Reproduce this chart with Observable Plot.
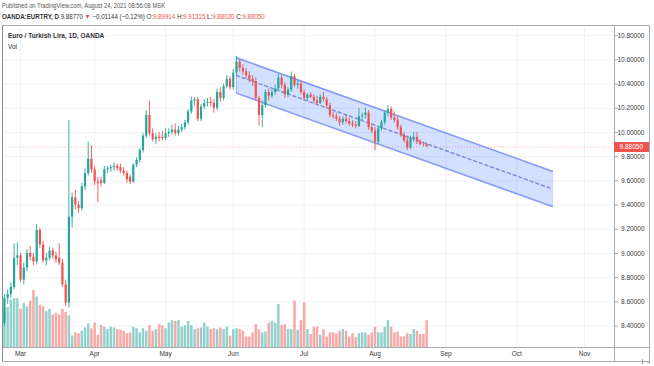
<!DOCTYPE html>
<html>
<head>
<meta charset="utf-8">
<script src="https://cdn.jsdelivr.net/npm/d3@7"></script>
<script src="https://cdn.jsdelivr.net/npm/@observablehq/plot@0.6"></script>
<style>
  html, body { margin: 0; padding: 0; background: #ffffff; }
  #page { position: relative; width: 654px; height: 366px; overflow: hidden; font-family: "Liberation Sans", Arial, sans-serif; color: #333; }
  .hdr { position: absolute; left: 2px; white-space: nowrap; font-size: 7px; line-height: 9px; transform-origin: 0 50%; }
  #h1 { top: 1px; color: #555; transform: scaleX(0.83); }
  #h2 { top: 12px; color: #333; transform: scaleX(0.88); }
  .red { color: #ef5350; }
  #frame { position: absolute; left: 2px; top: 25px; width: 648px; height: 337px; box-sizing: border-box; border: 1px solid #a9abb3; border-left-color: #8a8d96; pointer-events: none; }
  .legend { position: absolute; left: 8px; white-space: nowrap; font-size: 6.5px; color: #333; }
  #t1 { top: 32px; font-weight: bold; }
  #t2 { top: 43px; }
</style>
</head>
<body>
<div id="page">
  <div class="hdr" id="h1">Published on TradingView.com, August 24, 2021 08:56:08 MSK</div>
  <div class="hdr" id="h2"><b>OANDA:EURTRY, D</b> 9.88770 <span class="red">▼</span> −0.01144 (−0.12%) O:<span class="red">9.89914</span> H:<span class="red">9.91315</span> L:<span class="red">9.88020</span> C:<span class="red">9.88050</span></div>
  <div id="layers"></div>
  <div class="legend" id="t1">Euro / Turkish Lira, 1D, OANDA</div>
  <div class="legend" id="t2">Vol</div>
  <div id="frame"></div>
</div>
<script>
// ---------- data (daily bars, weekdays from 2021-02-22 to 2021-08-24) ----------
const firstBarDate = "2021-02-22";
const opens = [
  8.42, 8.63, 8.66, 8.72, 8.96, 8.98, 8.78, 8.88, 9.00, 8.97, 8.93, 9.19, 9.07, 8.94, 8.96, 9.02, 8.98, 8.96, 8.92, 8.74,
  8.59, 9.30, 9.46, 9.40, 9.37, 9.55, 9.66, 9.78, 9.69, 9.59, 9.60, 9.58,
  9.69, 9.70, 9.71, 9.72, 9.71, 9.68, 9.66, 9.63, 9.59, 9.73, 9.77, 9.85, 9.97, 10.14, 9.99, 9.94, 9.96, 9.96,
  9.95, 9.99, 10.00, 10.02, 9.99, 10.02, 10.04, 10.08, 10.17, 10.26, 10.27, 10.11, 10.21, 10.24, 10.25, 10.24, 10.20, 10.33, 10.28, 10.38, 10.44, 10.37,
  10.49, 10.58, 10.53, 10.50, 10.47, 10.44, 10.42, 10.28, 10.14, 10.22, 10.33, 10.30, 10.33, 10.36, 10.45, 10.39, 10.31, 10.35, 10.46, 10.39, 10.40, 10.33, 10.28, 10.31, 10.29,
  10.26, 10.24, 10.29, 10.27, 10.22, 10.14, 10.13, 10.11, 10.08, 10.11, 10.09, 10.07, 10.06, 10.05, 10.13, 10.14, 10.16, 10.04, 10.01, 9.92, 10.03, 10.08, 10.16,
  10.19, 10.12, 10.10, 10.04, 9.98, 9.93, 9.87, 9.95, 9.96, 9.92, 9.90, 9.89914
];
const highs = [
  8.66, 8.70, 8.76, 9.08, 9.09, 9.00, 8.92, 9.03, 9.06, 9.00, 9.24, 9.21, 9.10, 9.00, 9.05, 9.04, 9.01, 9.08, 8.95, 8.78,
  10.10, 9.50, 9.52, 9.43, 9.58, 9.70, 9.92, 9.89, 9.72, 9.63, 9.63, 9.72,
  9.72, 9.73, 9.75, 9.74, 9.74, 9.71, 9.68, 9.65, 9.74, 9.79, 9.87, 9.99, 10.18, 10.26, 10.03, 9.99, 10.00, 10.01,
  10.03, 10.03, 10.06, 10.07, 10.05, 10.07, 10.10, 10.19, 10.29, 10.29, 10.29, 10.23, 10.27, 10.28, 10.29, 10.27, 10.36, 10.37, 10.40, 10.47, 10.46, 10.52,
  10.63, 10.60, 10.56, 10.53, 10.50, 10.47, 10.45, 10.30, 10.26, 10.35, 10.36, 10.35, 10.39, 10.48, 10.47, 10.41, 10.37, 10.50, 10.48, 10.43, 10.42, 10.35, 10.32, 10.33, 10.31,
  10.30, 10.31, 10.33, 10.29, 10.24, 10.17, 10.16, 10.13, 10.13, 10.14, 10.12, 10.10, 10.09, 10.20, 10.16, 10.20, 10.18, 10.07, 10.04, 10.05, 10.10, 10.18, 10.22,
  10.21, 10.17, 10.13, 10.06, 10.00, 9.96, 9.97, 10.00, 10.00, 9.94, 9.92, 9.91315
];
const lows = [
  8.40, 8.58, 8.63, 8.70, 8.90, 8.76, 8.74, 8.85, 8.94, 8.90, 8.91, 9.04, 8.92, 8.90, 8.94, 8.95, 8.92, 8.90, 8.72, 8.56,
  8.55, 9.21, 9.36, 9.33, 9.35, 9.52, 9.64, 9.66, 9.56, 9.42, 9.55, 9.57,
  9.66, 9.67, 9.68, 9.68, 9.66, 9.64, 9.58, 9.57, 9.58, 9.71, 9.75, 9.83, 9.95, 9.97, 9.92, 9.90, 9.92, 9.93,
  9.93, 9.96, 9.98, 9.97, 9.97, 10.00, 10.02, 10.06, 10.15, 10.22, 10.09, 10.09, 10.19, 10.21, 10.21, 10.16, 10.18, 10.25, 10.26, 10.36, 10.35, 10.35,
  10.47, 10.50, 10.47, 10.44, 10.41, 10.38, 10.26, 10.05, 10.04, 10.20, 10.26, 10.28, 10.31, 10.34, 10.36, 10.28, 10.29, 10.33, 10.37, 10.36, 10.31, 10.26, 10.26, 10.28, 10.24,
  10.22, 10.23, 10.25, 10.20, 10.12, 10.11, 10.09, 10.05, 10.06, 10.07, 10.05, 10.04, 10.03, 10.04, 10.10, 10.11, 10.02, 9.99, 9.85, 9.90, 10.01, 10.06, 10.13,
  10.10, 10.08, 10.02, 9.96, 9.91, 9.85, 9.86, 9.92, 9.90, 9.89, 9.88, 9.88020
];
const closes = [
  8.63, 8.66, 8.72, 8.96, 8.98, 8.78, 8.88, 9.00, 8.97, 8.93, 9.19, 9.07, 8.94, 8.96, 9.02, 8.98, 8.95, 8.92, 8.74, 8.59,
  9.30, 9.46, 9.40, 9.37, 9.55, 9.66, 9.78, 9.69, 9.59, 9.58, 9.58, 9.69,
  9.70, 9.71, 9.72, 9.70, 9.68, 9.66, 9.61, 9.59, 9.73, 9.77, 9.85, 9.97, 10.14, 9.99, 9.94, 9.96, 9.95, 9.95,
  9.99, 10.00, 10.02, 9.99, 10.02, 10.04, 10.08, 10.17, 10.26, 10.27, 10.11, 10.21, 10.24, 10.25, 10.24, 10.20, 10.33, 10.28, 10.38, 10.44, 10.37, 10.49,
  10.58, 10.53, 10.50, 10.47, 10.44, 10.42, 10.28, 10.14, 10.22, 10.33, 10.30, 10.33, 10.36, 10.45, 10.39, 10.31, 10.35, 10.46, 10.39, 10.40, 10.33, 10.28, 10.31, 10.29, 10.26,
  10.24, 10.29, 10.27, 10.22, 10.14, 10.13, 10.11, 10.08, 10.11, 10.09, 10.07, 10.06, 10.05, 10.13, 10.14, 10.16, 10.04, 10.01, 9.92, 10.03, 10.08, 10.16, 10.19,
  10.12, 10.10, 10.04, 9.98, 9.93, 9.87, 9.95, 9.96, 9.92, 9.90, 9.89914, 9.88050
];
const volumes = [
  49000, 49000, 58000, 60000, 60000, 47000, 54000, 50000, 57000, 70000, 62000, 52000, 50000, 44000, 47000, 40000, 42000, 40000, 47000, 43000,
  39000, 14000, 18000, 17000, 20000, 24000, 29000, 23000, 30000, 15000, 27000, 25000,
  22000, 25000, 24000, 22000, 21000, 20000, 17000, 18000, 25000, 23000, 18000, 23000, 20000, 27000, 20000, 22000, 28000, 27000,
  23000, 30000, 33000, 32000, 33000, 25000, 27000, 32000, 27000, 22000, 23000, 24000, 30000, 25000, 22000, 23000, 22000, 24000, 22000, 25000, 14000, 22000,
  23000, 22000, 20000, 13000, 13000, 18000, 28000, 22000, 18000, 19000, 30000, 32000, 30000, 53000, 27000, 28000, 22000, 22000, 57000, 21000, 33000, 55000, 22000, 16000, 25000,
  25000, 15000, 22000, 13000, 18000, 18000, 17000, 20000, 22000, 20000, 13000, 17000, 12000, 17000, 18000, 18000, 15000, 18000, 25000, 18000, 18000, 25000, 33000,
  25000, 18000, 19000, 13000, 13000, 17000, 16000, 22000, 20000, 16000, 16000, 33000
];
const lastPrice = 9.88050;
const yTicks = [8.4, 8.6, 8.8, 9.0, 9.2, 9.4, 9.6, 9.8, 10.0, 10.2, 10.4, 10.6, 10.8];
const monthLabels = ["Mar", "Apr", "May", "Jun", "Jul", "Aug", "Sep", "Oct", "Nov"];
// parallel channel drawing
const channelDates = ["2021-06-02", "2021-10-18"];
const channelUpper = [10.617, 9.680];
const channelLower = [10.325, 9.388];

// ---------- view settings ----------
const xDomain = [-0.6, 189.3];      // visible bar-index range
const yDomain = [8.223, 10.884];    // visible price range
const volHeadroom = 5.65;           // volume pane: tallest bar ~ 1/5.65 of the pane
const GREEN = "#26a69a", RED = "#ef5350";
const VOL_GREEN = "#92d2cc", VOL_RED = "#f7a9a7";
const GRID = "#f0f2f7";
const FONT = "Liberation Sans, Arial, sans-serif";

// ---------- weekday calendar (TradingView time axis skips weekends) ----------
const calendar = [];
for (let t = Date.parse(firstBarDate + "T00:00:00Z"); t <= Date.parse("2021-11-30T00:00:00Z"); t += 86400000) {
  const d = new Date(t);
  const wd = d.getUTCDay();
  if (wd !== 0 && wd !== 6) calendar.push(d);
}
const iso = d => d.toISOString().slice(0, 10);
const indexOf = s => calendar.findIndex(d => iso(d) === s);

const bars = opens.map((o, i) => ({
  i, date: calendar[i], o, h: highs[i], l: lows[i], c: closes[i], v: volumes[i], up: closes[i] >= o
}));

const monthStarts = [];
calendar.forEach((d, i) => {
  if (i > 0 && d.getUTCMonth() !== calendar[i - 1].getUTCMonth()) monthStarts.push(i);
});
const monthTicks = monthLabels.map((label, k) => ({i: monthStarts[k], label}));
const labelAt = new Map(monthTicks.map(d => [d.i, d.label]));

const channel = channelDates.map((s, k) => ({i: indexOf(s), lo: channelLower[k], hi: channelUpper[k]}));

const common = {
  width: 654, height: 341,
  marginLeft: 2, marginRight: 40, marginTop: 0, marginBottom: 19,
  x: {type: "linear", domain: xDomain},
  style: {background: "transparent", overflow: "visible", fontFamily: FONT, fontSize: "6.5px", color: "#3a3a3a"}
};

// layer 1: grid + axes
const grid = Plot.plot({
  ...common,
  y: {domain: yDomain},
  marks: [
    Plot.ruleY(yTicks, {stroke: GRID}),
    Plot.ruleX(monthTicks, {x: "i", stroke: GRID}),
    Plot.axisY(yTicks, {anchor: "right", tickSize: 3, tickPadding: 27, textAnchor: "end",
      tickFormat: d => d.toFixed(5), stroke: "#a9abb3", fill: "#3a3a3a"}),
    Plot.axisX(monthTicks.map(d => d.i), {anchor: "bottom", tickSize: 0, tickPadding: 4,
      tickFormat: d => labelAt.get(d), fill: "#3a3a3a"}),
    Plot.ruleX([xDomain[1]], {stroke: "#a9abb3", insetBottom: -15}),
    Plot.ruleY([yDomain[0]], {stroke: "#a9abb3", insetRight: -36})
  ]
});

// layer 2: volume
const vol = Plot.plot({
  ...common,
  y: {domain: [0, d3.max(volumes) * volHeadroom]},
  axis: null,
  marks: [
    Plot.ruleX(bars, {x: "i", y1: 0, y2: "v", stroke: d => d.up ? VOL_GREEN : VOL_RED, strokeWidth: 2.5})
  ]
});

// layer 3: channel + candles + last price
const price = Plot.plot({
  ...common,
  y: {domain: yDomain},
  axis: null,
  marks: [
    Plot.areaY(channel, {x: "i", y1: "lo", y2: "hi", fill: "#2962ff", fillOpacity: 0.2}),
    Plot.ruleX(channel, {x: "i", y1: "lo", y2: "hi", stroke: "#2962ff", strokeOpacity: 0.3}),
    Plot.line(channel, {x: "i", y: "hi", stroke: "#4a6cf0", strokeOpacity: 0.65}),
    Plot.line(channel, {x: "i", y: "lo", stroke: "#4a6cf0", strokeOpacity: 0.65}),
    Plot.line(channel, {x: "i", y: d => (d.lo + d.hi) / 2, stroke: "#5b6fc4", strokeOpacity: 0.7, strokeDasharray: "3,3"}),
    Plot.ruleY([lastPrice], {stroke: RED, strokeOpacity: 0.45, strokeDasharray: "1,2"}),
    Plot.ruleX(bars, {x: "i", y1: "l", y2: "h", stroke: d => d.up ? GREEN : RED, strokeWidth: 0.9}),
    Plot.ruleX(bars, {x: "i", y1: "o", y2: "c", stroke: d => d.up ? GREEN : RED, strokeWidth: 2.2}),
    Plot.ruleY([lastPrice], {x1: xDomain[1], x2: xDomain[1], insetRight: -35, stroke: RED, strokeWidth: 10}),
    Plot.text([lastPrice], {x: xDomain[1], y: d => d, text: d => d.toFixed(5), dx: 5, textAnchor: "start",
      fill: "white", fontSize: 6.5})
  ]
});

const host = document.getElementById("layers");
[grid, vol, price].forEach(svg => {
  svg.style.position = "absolute";
  svg.style.left = "0px";
  svg.style.top = "25px";
  host.appendChild(svg);
});
</script>
</body>
</html>
